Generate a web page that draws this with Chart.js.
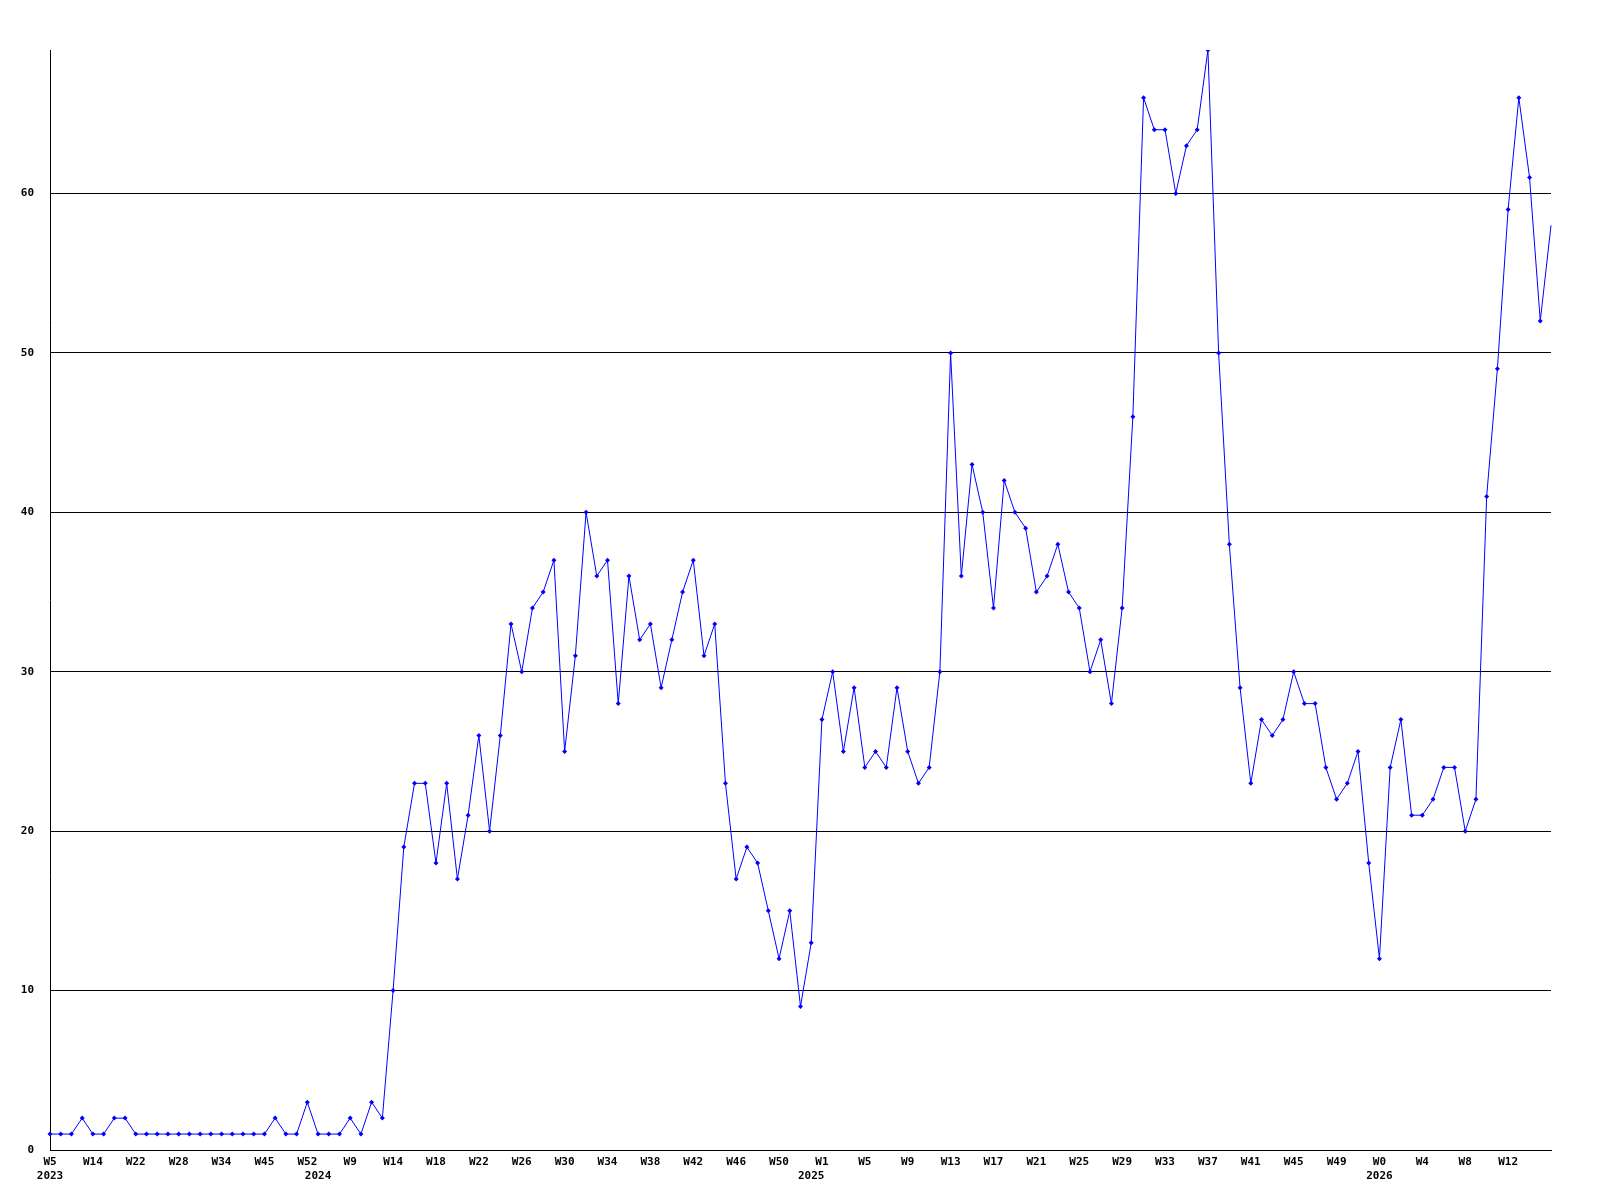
<!DOCTYPE html>
<html lang="en">

<head>
    <meta charset="UTF-8" />
    <title>Weekly count</title>
    <script src="https://cdn.jsdelivr.net/npm/chart.js"></script>
    <style>
        body { margin: 0; background: #fff; }
        #box { width: 1600px; height: 1200px; }
    </style>
</head>

<body>
    <div id="box">
        <canvas id="grafico_linha" width="1600" height="1200"></canvas>
    </div>
</body>

</html>
<script>
    // week of each point (the early part is not weekly)
    const weeks = [
        'W5', 'W7', 'W9', 'W11', 'W14', 'W16', 'W18', 'W20', 'W22', 'W23', 'W25', 'W26', 'W28',
        'W29', 'W31', 'W33', 'W34', 'W37', 'W40', 'W42', 'W45', 'W47', 'W49', 'W50', 'W52',
        'W2', 'W5', 'W7', 'W9', 'W10', 'W12', 'W13', 'W14', 'W15', 'W16', 'W17', 'W18', 'W19',
        'W20', 'W21', 'W22', 'W23', 'W24', 'W25', 'W26', 'W27', 'W28', 'W29', 'W30', 'W31',
        'W32', 'W33', 'W34', 'W35', 'W36', 'W37', 'W38', 'W39', 'W40', 'W41', 'W42', 'W43',
        'W44', 'W45', 'W46', 'W47', 'W48', 'W49', 'W50', 'W51', 'W52',
        'W0', 'W1', 'W2', 'W3', 'W4', 'W5', 'W6', 'W7', 'W8', 'W9', 'W10', 'W11', 'W12', 'W13',
        'W14', 'W15', 'W16', 'W17', 'W18', 'W19', 'W20', 'W21', 'W22', 'W23', 'W24', 'W25',
        'W26', 'W27', 'W28', 'W29', 'W30', 'W31', 'W32', 'W33', 'W34', 'W35', 'W36', 'W37',
        'W38', 'W39', 'W40', 'W41', 'W42', 'W43', 'W44', 'W45', 'W46', 'W47', 'W48', 'W49',
        'W50', 'W51', 'W52',
        'W0', 'W1', 'W2', 'W3', 'W4', 'W5', 'W6', 'W7', 'W8', 'W9', 'W10', 'W11', 'W12',
        'W13', 'W14', 'W15', 'W16'
    ];

    const valores = [
        1, 1, 1, 2, 1, 1, 2, 2, 1, 1, 1, 1, 1, 1, 1, 1, 1, 1, 1, 1, 1, 2, 1, 1, 3,
        1, 1, 1, 2, 1, 3, 2,
        10, 19, 23, 23, 18, 23, 17, 21, 26, 20, 26, 33, 30, 34, 35, 37, 25, 31, 40, 36,
        37, 28, 36, 32, 33, 29, 32, 35, 37, 31, 33, 23, 17, 19, 18, 15, 12, 15, 9, 13,
        27, 30, 25, 29, 24, 25, 24, 29, 25, 23, 24, 30, 50, 36, 43, 40, 34, 42, 40, 39,
        35, 36, 38, 35, 34, 30, 32, 28, 34, 46, 66, 64, 64, 60, 63, 64, 69, 50, 38, 29,
        23, 27, 26, 27, 30, 28, 28, 24, 22, 23, 25, 18, 12, 24, 27, 21, 21, 22, 24, 24,
        20, 22, 41, 49, 59, 66, 61, 52, 58
    ];

    // year text under the first point of each year
    const anos = ['2023', '2024', '2025', '2026'];
    const inicioAno = [0, 25, 71, 124];

    const marcaY = [0, 10, 20, 30, 40, 50, 60];
    const maxY = 69;

    const fonte = { family: 'DejaVu Sans Mono', size: 11, weight: 'bold', lineHeight: '14px' };
    const ultimo = valores.length - 1;

    function rotuloX(valor, i) {
        // every 4th week, but nothing on the right edge
        const linha1 = (i % 4 === 0 && i < ultimo) ? weeks[i] : '';
        const k = inicioAno.indexOf(i);
        if (k >= 0) return [linha1, anos[k]];
        return linha1;
    }

    const config = {
        type: 'line',
        data: {
            labels: weeks,
            datasets: [{
                data: valores,
                borderColor: 'rgb(0, 0, 255)',
                backgroundColor: 'rgb(0, 0, 255)',
                borderWidth: 1,
                pointStyle: 'rectRot',
                pointRadius: ctx => ctx.dataIndex === ultimo ? 0 : 2.5,
                pointBorderWidth: 0,
                tension: 0,
                fill: false
            }]
        },
        options: {
            responsive: false,
            animation: false,
            layout: { padding: { top: 50, right: 49, left: 0, bottom: 0 } },
            plugins: {
                legend: { display: false },
                tooltip: { enabled: false }
            },
            scales: {
                x: {
                    type: 'category',
                    offset: false,
                    grid: { display: false, drawTicks: false },
                    border: { display: true, color: '#000', width: 1 },
                    ticks: {
                        autoSkip: false,
                        maxRotation: 0,
                        minRotation: 0,
                        padding: 5,
                        color: '#000',
                        font: fonte,
                        callback: rotuloX
                    },
                    afterFit: s => { s.height = 50; }
                },
                y: {
                    min: 0,
                    max: maxY,
                    grid: { color: '#000', lineWidth: 1, drawTicks: false },
                    border: { display: true, color: '#000', width: 1 },
                    afterBuildTicks: s => { s.ticks = marcaY.map(v => ({ value: v })); },
                    ticks: {
                        padding: 16,
                        color: '#000',
                        font: fonte
                    },
                    afterFit: s => { s.width = 50; }
                }
            }
        }
    };

    const grafico = new Chart(document.getElementById('grafico_linha'), config);
</script>
